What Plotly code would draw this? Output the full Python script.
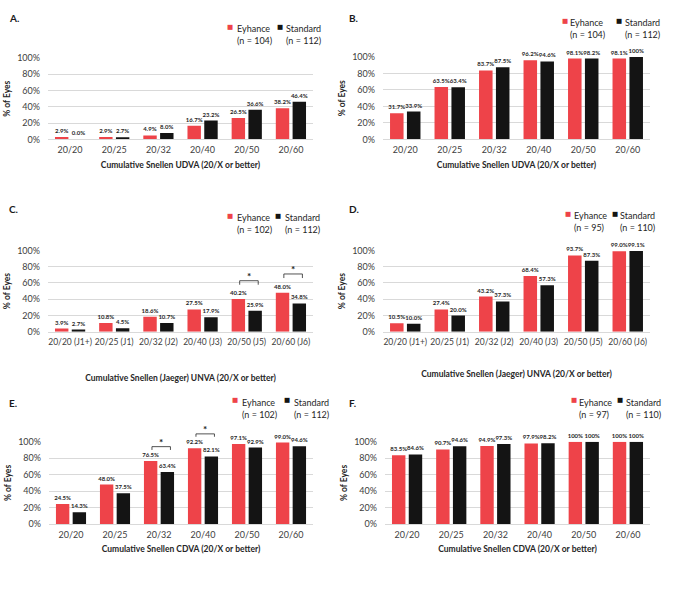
import plotly.graph_objects as go

W, H = 674, 589

categories_uv = ["20/20", "20/25", "20/32", "20/40", "20/50", "20/60"]
categories_nv = ["20/20 (J1+)", "20/25 (J1)", "20/32 (J2)", "20/40 (J3)", "20/50 (J5)", "20/60 (J6)"]

a_eyhance = [2.9, 2.9, 4.9, 16.7, 26.5, 38.2]
a_standard = [0.0, 2.7, 8.0, 23.2, 36.6, 46.4]
b_eyhance = [31.7, 63.5, 83.7, 96.2, 98.1, 98.1]
b_standard = [33.9, 63.4, 87.5, 94.6, 98.2, 100]
c_eyhance = [3.9, 10.8, 18.6, 27.5, 40.2, 48.0]
c_standard = [2.7, 4.5, 10.7, 17.9, 25.9, 34.8]
d_eyhance = [10.5, 27.4, 43.2, 68.4, 93.7, 99.0]
d_standard = [10.0, 20.0, 37.3, 57.3, 87.3, 99.1]
e_eyhance = [24.5, 48.0, 76.5, 92.2, 97.1, 99.0]
e_standard = [14.3, 37.5, 63.4, 82.1, 92.9, 94.6]
f_eyhance = [83.5, 90.7, 94.9, 97.9, 100, 100]
f_standard = [84.6, 94.6, 97.3, 98.2, 100, 100]

n_eyhance = [104, 104, 102, 95, 102, 97]
n_standard = [112, 112, 112, 110, 112, 110]

ytick_vals = [0, 20, 40, 60, 80, 100]
ytick_text = ["0%", "20%", "40%", "60%", "80%", "100%"]

panel_letters = ["A.", "B.", "C.", "D.", "E.", "F."]
x_titles = [
    "Cumulative Snellen UDVA (20/X or better)",
    "Cumulative Snellen UDVA (20/X or better)",
    "Cumulative Snellen (Jaeger) UNVA (20/X or better)",
    "Cumulative Snellen (Jaeger) UNVA (20/X or better)",
    "Cumulative Snellen CDVA (20/X or better)",
    "Cumulative Snellen CDVA (20/X or better)",
]
# significance brackets: panel index, category index, bracket top value, leg bottom value
sig_panel = [2, 2, 4, 4]
sig_cat = [4, 5, 2, 3]
sig_top = [62.7, 71.0, 94.0, 109.5]
sig_leg = [57.8, 66.0, 90.0, 106.0]

RED = "#EE4349"
BLACK = "#141414"
FONT = "Lato"

def px_x(p):
    return p / W

def px_y(p):
    return 1 - p / H

# panel pixel boxes: (x_left, x_right, y_top(100%), y_bottom(0%))
boxes = [
    (48, 313, 53, 136),
    (383, 650, 52, 136),
    (48, 313, 249, 332),
    (383, 650, 249, 332),
    (49, 313, 444, 528),
    (385, 650, 444, 528),
]
title_standoff = [7, 7, 29, 25, 7, 7]
letter_pos = [(7, 12), (347, 12), (7, 207), (347, 207), (7, 405), (347, 405)]
legend_pos = [
    (230, 235, 280, 284, 21),
    (565, 568, 619, 623, 15),
    (230, 235, 278, 283, 214),
    (568, 572, 615, 618, 212),
    (235, 240, 287, 292, 402),
    (574, 577, 620, 624, 402),
]

data = [
    (categories_uv, a_eyhance, a_standard),
    (categories_uv, b_eyhance, b_standard),
    (categories_nv, c_eyhance, c_standard),
    (categories_nv, d_eyhance, d_standard),
    (categories_uv, e_eyhance, e_standard),
    (categories_uv, f_eyhance, f_standard),
]

def fmt(v):
    return "100%" if v == 100 else f"{v:.1f}%"

fig = go.Figure()
annotations = []
shapes = []
layout = {}

for i, (cats, ey, st) in enumerate(data):
    ax = "" if i == 0 else str(i + 1)
    xref, yref = "x" + ax, "y" + ax
    for name, vals, col in (("Eyhance", ey, RED), ("Standard", st, BLACK)):
        fig.add_trace(go.Bar(
            x=cats, y=vals, name=name, xaxis=xref, yaxis=yref,
            marker=dict(color=col, line=dict(width=0)),
            text=[fmt(v) for v in vals], textposition="outside",
            textfont=dict(size=6, family=FONT, color="#262626", weight="bold"),
            constraintext="none", cliponaxis=False, showlegend=False,
        ))
    xl, xr, yt, yb = boxes[i]
    layout["xaxis" + ax] = dict(
        domain=[px_x(xl), px_x(xr)], anchor=yref, type="category",
        showgrid=False, showline=True, linecolor="#d9d9d9", linewidth=1,
        ticks="", ticklabelstandoff=2, tickangle=0,
        tickfont=dict(size=9 if cats is categories_uv else 8.5, family=FONT, color="#404040"),
        title=dict(text=x_titles[i], standoff=title_standoff[i],
                   font=dict(size=8.5, family=FONT, color="#262626", weight="bold")),
        fixedrange=True,
    )
    layout["yaxis" + ax] = dict(
        domain=[px_y(yb), px_y(yt)], anchor=xref, range=[0, 100],
        tickvals=ytick_vals, ticktext=ytick_text, showgrid=True, gridcolor="#d9d9d9",
        gridwidth=1, zeroline=False, showline=False, ticks="", ticklabelstandoff=7,
        tickfont=dict(size=9, family=FONT, color="#404040"),
        title=dict(text="% of Eyes", standoff=5,
                   font=dict(size=8.5, family=FONT, color="#262626", weight="bold")),
        fixedrange=True,
    )
    lx, ly = letter_pos[i]
    annotations.append(dict(text=panel_letters[i], x=px_x(lx), y=px_y(ly), xref="paper", yref="paper",
                            xanchor="left", yanchor="middle", showarrow=False,
                            font=dict(size=10, family=FONT, color="#1a1a1a", weight="bold")))
    emx, etx, smx, stx, ly1 = legend_pos[i]
    for mx, tx, col, name, n in ((emx, etx, RED, "Eyhance", n_eyhance[i]),
                                  (smx, stx, BLACK, "Standard", n_standard[i])):
        annotations.append(dict(text="■", x=px_x(mx), y=px_y(ly1), xref="paper", yref="paper",
                                xanchor="center", yanchor="middle", showarrow=False,
                                font=dict(size=6.5, family="DejaVu Sans", color=col)))
        annotations.append(dict(text=f"{name}<br>(n = {n})", x=px_x(tx), y=px_y(ly1 - 6),
                                xref="paper", yref="paper", xanchor="left", yanchor="top",
                                align="left", showarrow=False,
                                font=dict(size=9, family=FONT, color="#262626")))

# significance brackets (paper coordinates derived from the axis domains, so they are not clipped)
for p, c, top, leg in zip(sig_panel, sig_cat, sig_top, sig_leg):
    xl, xr, yt, yb = boxes[p]
    cw = (xr - xl) / 6.0
    def vx(off):
        return px_x(xl + (c + 0.5 + off) * cw)
    def vy(v):
        return px_y(yb - (yb - yt) * v / 100.0)
    x0, x1 = vx(-0.16), vx(0.26)
    line = dict(color="#262626", width=0.8)
    shapes.append(dict(type="line", xref="paper", yref="paper", x0=x0, x1=x1, y0=vy(top), y1=vy(top), line=line))
    shapes.append(dict(type="line", xref="paper", yref="paper", x0=x0, x1=x0, y0=vy(top), y1=vy(leg), line=line))
    shapes.append(dict(type="line", xref="paper", yref="paper", x0=x1, x1=x1, y0=vy(top), y1=vy(leg), line=line))
    annotations.append(dict(text="*", x=(x0 + x1) / 2, y=vy(top), xref="paper", yref="paper",
                            xanchor="center", yanchor="bottom", showarrow=False, yshift=-3,
                            font=dict(size=10, family=FONT, color="#1a1a1a", weight="bold")))

fig.update_layout(
    width=W, height=H, margin=dict(l=0, r=0, t=0, b=0),
    paper_bgcolor="white", plot_bgcolor="white",
    barmode="group", bargap=0.24, bargroupgap=0.2,
    annotations=annotations, shapes=shapes,
    font=dict(family=FONT),
    **layout,
)

fig.write_html("out.html", config={"displayModeBar": False},
               post_script="document.body.style.margin='0';document.body.style.overflow='hidden';")
